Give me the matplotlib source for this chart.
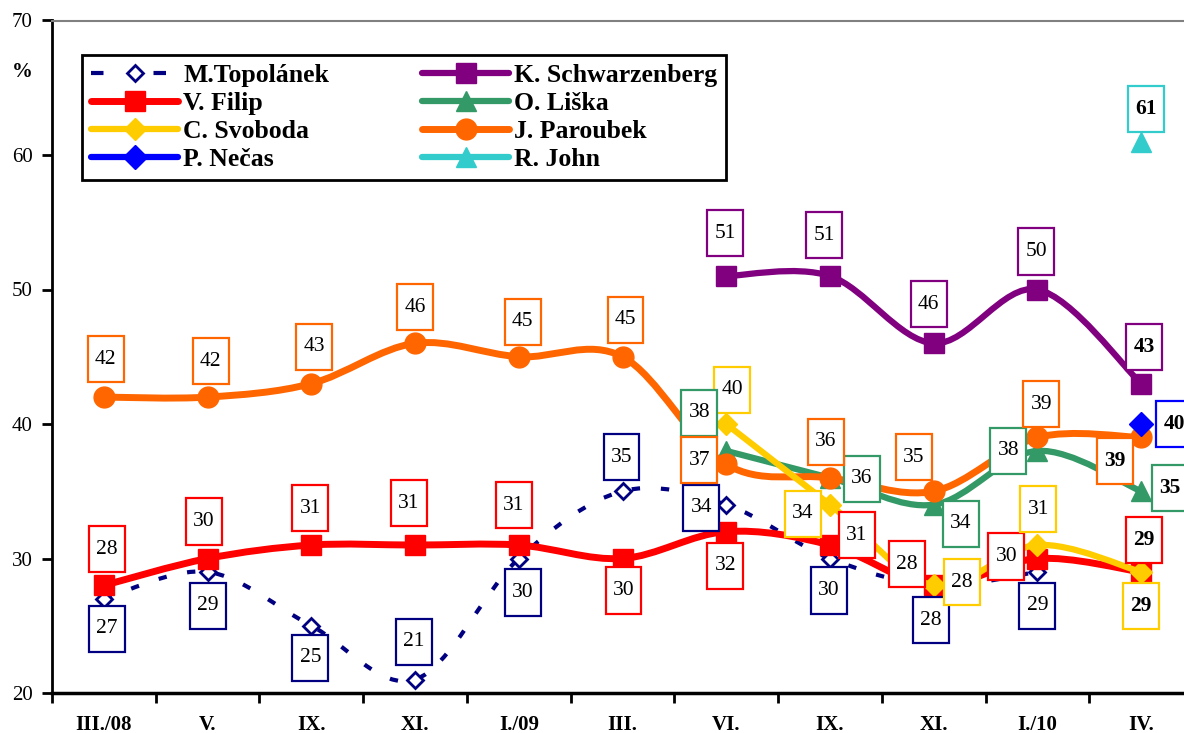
import numpy as np
import matplotlib
matplotlib.use('Agg')
from matplotlib import pyplot as plt
from matplotlib.path import Path
from matplotlib.patches import PathPatch
from matplotlib.lines import Line2D

plt.rcParams['font.family'] = ['Liberation Serif', 'DejaVu Serif']

nan = np.nan
months = ['III./08', 'V.', 'IX.', 'XI.', 'I./09', 'III.', 'VI.', 'IX.', 'XI.', 'I./10', 'IV.']

topolanek = [27, 29, 25, 21, 30, 35, 34, 30, 28, 29, nan]
filip = [28, 30, 31, 31, 31, 30, 32, 31, 28, 30, 29]
svoboda = [nan, nan, nan, nan, nan, nan, 40, 34, 28, 31, 29]
necas = [nan, nan, nan, nan, nan, nan, nan, nan, nan, nan, 40]
schwarzenberg = [nan, nan, nan, nan, nan, nan, 51, 51, 46, 50, 43]
liska = [nan, nan, nan, nan, nan, nan, 38, 36, 34, 38, 35]
paroubek = [42, 42, 43, 46, 45, 45, 37, 36, 35, 39, 39]
john = [nan, nan, nan, nan, nan, nan, nan, nan, nan, nan, 61]

# label offsets in pixels (dx right, dy down) for every shown value
off_topolanek = [(3, 30), (0, 34), (-1, 32), (-1, -38), (4, 34), (-1, -34), (-25, 3), (-1, 32), (-3, 35), (0, 34), None]
off_filip = [(3, -36), (-4, -37), (-1, -37), (-6, -42), (-5, -40), (1, 32), (-1, 34), (27, -10), (-27, -21), (-31, -2), (3, -32)]
off_svoboda = [None] * 6 + [(6, -34), (-27, 9), (28, -3), (1, -36), (0, 34)]
off_necas = [None] * 10 + [(33, 0)]
off_schwarz = [None] * 6 + [(-1, -43), (-6, -41), (-5, -39), (-1, -38), (3, -37)]
off_liska = [None] * 6 + [(-27, -38), (32, 1), (27, 19), (-29, 0), (29, -3)]
off_paroubek = [(2, -38), (3, -36), (3, -37), (0, -36), (4, -35), (3, -37), (-27, -4), (-4, -36), (-20, -34), (4, -33), (-26, 24)]
off_john = [None] * 10 + [(5, -33)]

fig = plt.figure(figsize=(11.84, 7.33), dpi=100)
ax = fig.add_axes([52 / 1184, 1 - 693 / 733, 1141 / 1184, 672.5 / 733])
x = np.arange(len(months))


def smooth_path(vals):
    # Excel style smoothed line as cubic bezier segments
    pts = np.array([(i, v) for i, v in zip(x, vals) if not np.isnan(v)], dtype=float)
    n = len(pts)
    verts = [pts[0]]
    codes = [Path.MOVETO]
    for i in range(n - 1):
        p0 = pts[max(i - 1, 0)]
        p1 = pts[i]
        p2 = pts[i + 1]
        p3 = pts[min(i + 2, n - 1)]
        verts += [p1 + (p2 - p0) / 6, p2 - (p3 - p1) / 6, p2]
        codes += [Path.CURVE4] * 3
    return Path(verts, codes)


def box_style(x0, y0, width, height, mutation_size):
    w = 1.67 * mutation_size
    h = 2.14 * mutation_size
    cx = x0 + width / 2
    cy = y0 + height / 2
    return Path([(cx - w / 2, cy - h / 2), (cx + w / 2, cy - h / 2), (cx + w / 2, cy + h / 2),
                 (cx - w / 2, cy + h / 2), (cx - w / 2, cy - h / 2)], closed=True)


series = [
    ('M.Topolánek', topolanek, off_topolanek, '#000080', 'D', 8, 'white', 3.0, 'dash'),
    ('V. Filip', filip, off_filip, '#FF0000', 's', 14, None, 5.0, '-'),
    ('C. Svoboda', svoboda, off_svoboda, '#FFCC00', 'D', 11, None, 4.5, '-'),
    ('P. Nečas', necas, off_necas, '#0000FF', 'D', 12, None, 4.5, '-'),
    ('K. Schwarzenberg', schwarzenberg, off_schwarz, '#800080', 's', 14, None, 4.5, '-'),
    ('O. Liška', liska, off_liska, '#339966', '^', 14, None, 4.5, '-'),
    ('J. Paroubek', paroubek, off_paroubek, '#FF6600', 'o', 15, None, 5.0, '-'),
    ('R. John', john, off_john, '#33CCCC', '^', 14, None, 4.5, '-'),
]
zorders = {'M.Topolánek': 2, 'V. Filip': 3, 'O. Liška': 4, 'J. Paroubek': 5,
           'C. Svoboda': 6, 'K. Schwarzenberg': 7, 'P. Nečas': 8, 'R. John': 8}

handles = []
for name, vals, offs, col, mk, ms, mfc, lw, ls in series:
    z = zorders[name]
    vals = np.array(vals, dtype=float)
    if np.sum(~np.isnan(vals)) > 1:
        patch = PathPatch(smooth_path(vals), fill=False, edgecolor=col, lw=lw,
                          capstyle='round', joinstyle='round', zorder=z)
        if ls == 'dash':
            patch.set_linestyle((0, (2, 5)))
            patch.set_capstyle('butt')
        ax.add_patch(patch)
    face = mfc if mfc else col
    ax.plot(x, vals, linestyle='none', marker=mk, markersize=ms, color=col,
            markerfacecolor=face, markeredgewidth=2 if mfc else 1, zorder=z + 0.5)
    handles.append(Line2D([], [], color=col, lw=lw, marker=mk, markersize=ms,
                          markerfacecolor=face, markeredgewidth=2 if mfc else 1,
                          linestyle=(0, (3, 12)) if ls == 'dash' else '-',
                          solid_capstyle='round', dash_capstyle='butt'))
    for i, v in enumerate(vals):
        if np.isnan(v) or offs[i] is None:
            continue
        dx, dy = offs[i]
        ax.annotate(f'{int(v)}', xy=(i, v), xytext=(dx, -dy), textcoords='offset pixels',
                    ha='center', va='center', fontsize=15.5,
                    fontweight='bold' if i == len(months) - 1 else 'normal',
                    bbox=dict(boxstyle=box_style, facecolor='white', edgecolor=col, lw=1.6),
                    zorder=20)

ax.set_xlim(-0.5, len(months) - 0.5)
ax.set_ylim(20, 70)
ax.set_yticks(range(20, 71, 10))
ax.set_xticks(np.arange(-0.5, len(months), 1.0))
ax.set_xticklabels([])
ax.set_xticks(x, minor=True)
ax.set_xticklabels(months, minor=True, fontsize=15, fontweight='bold')
ax.tick_params(axis='x', which='minor', length=0, pad=16)
ax.tick_params(axis='x', which='major', length=7, width=2, direction='out')
ax.tick_params(axis='y', length=7, width=2, direction='out', labelsize=15, pad=7)

ax.spines['left'].set_linewidth(2)
ax.spines['bottom'].set_linewidth(2.5)
ax.spines['top'].set_color('#808080')
ax.spines['top'].set_linewidth(1.5)
ax.spines['right'].set_visible(False)

fig.text(22 / 1184, 1 - 72 / 733, '%', fontsize=15, fontweight='bold', ha='center', va='center')

leg = ax.legend(handles=handles, labels=[s[0] for s in series], ncol=2,
                loc='upper left', bbox_to_anchor=(82 / 1184, 1 - 55 / 733),
                bbox_transform=fig.transFigure, borderaxespad=0, fancybox=False,
                framealpha=1, edgecolor='black', prop={'size': 18.5, 'weight': 'bold'},
                handlelength=3.4, handletextpad=0.2, labelspacing=0.2,
                columnspacing=3.6, borderpad=0.35, numpoints=1)
leg.get_frame().set_linewidth(2)
leg.set_zorder(30)

fig.savefig('out.png', dpi=100)
